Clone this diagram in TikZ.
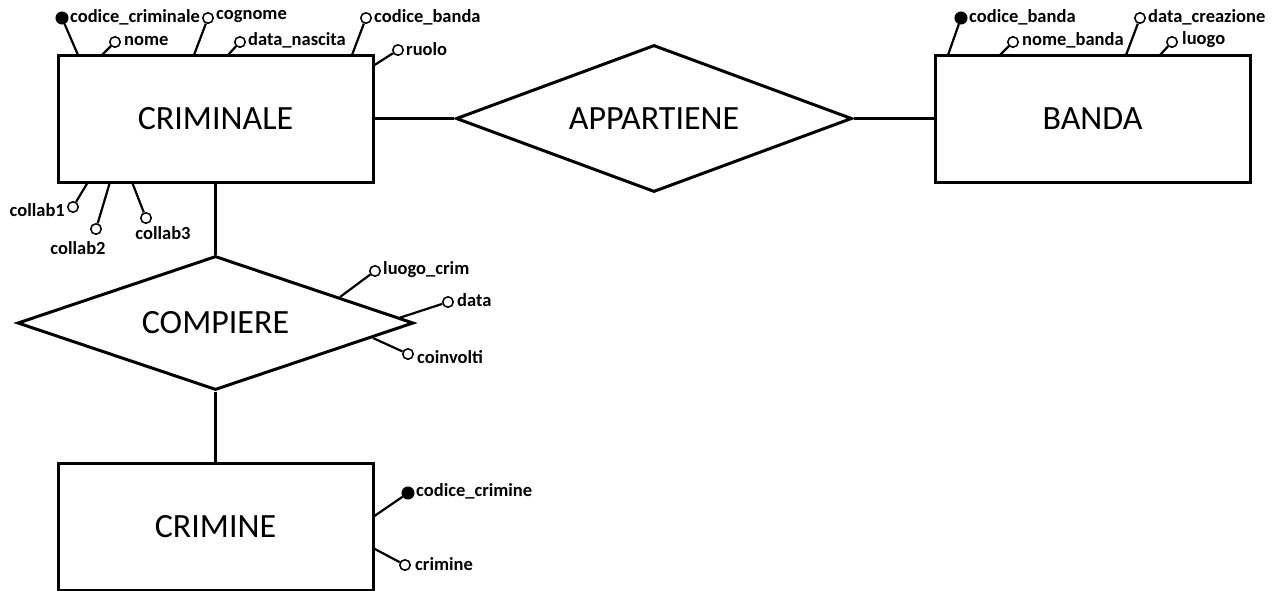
\documentclass[tikz,border=0pt]{standalone}
\usepackage{fontspec}
\setmainfont{Carlito}
\usetikzlibrary{shapes.geometric}
\tikzset{
  entity/.style={draw, line width=3pt, rectangle, minimum width=315pt, minimum height=127pt, inner sep=0pt, font=\fontsize{34}{36}\selectfont},
  rel/.style={draw, line width=3pt, diamond, inner sep=0pt, font=\fontsize{34}{36}\selectfont},
  conn/.style={line width=3pt},
  att/.style={draw, circle, line width=1.5pt, minimum size=10.5pt, inner sep=0pt, fill=white},
  key/.style={draw, circle, line width=1.5pt, minimum size=11.5pt, inner sep=0pt, fill=black},
  alink/.style={line width=2.2pt},
  atext/.style={font=\bfseries\fontsize{18.5}{20}\selectfont, inner sep=0pt, anchor=west},
}
\begin{document}
\begin{tikzpicture}[x=1pt,y=-1pt]
\useasboundingbox (0,0) rectangle (1275,590);
% entities and relations
\node[entity] (crim) at (215.5,118.5) {CRIMINALE};
\node[entity] (banda) at (1092.5,118.5) {BANDA};
\node[entity] (crimine) at (215.5,526.5) {CRIMINE};
\node[rel, aspect=2.7, minimum width=396pt, minimum height=147pt] (app) at (654,118.5) {APPARTIENE};
\node[rel, aspect=3, minimum width=396pt, minimum height=134pt] (comp) at (215.5,323) {COMPIERE};
\draw[conn] (crim) -- (app);
\draw[conn] (app) -- (banda);
\draw[conn] (crim) -- (comp);
\draw[conn] (comp) -- (crimine);

% CRIMINALE attributes
\node[key] (cc) at (62,18) {};
\node[atext] (tcc) at (70,17) {codice\_criminale};
\coordinate (pcc) at (78,55);
\draw[alink] (pcc) -- (cc);

\node[att] (nm) at (115,42) {};
\node[atext] (tnm) at (124,41) {nome};
\coordinate (pnm) at (102,55);
\draw[alink] (pnm) -- (nm);

\node[att] (cg) at (208,18) {};
\node[atext] (tcg) at (216,17) {cognome};
\coordinate (pcg) at (194,55);
\draw[alink] (pcg) -- (cg);

\node[att] (dn) at (240,42) {};
\node[atext] (tdn) at (248,40) {data\_nascita};
\coordinate (pdn) at (228,55);
\draw[alink] (pdn) -- (dn);

\node[att] (cb) at (366,18) {};
\node[atext] (tcb) at (374,17) {codice\_banda};
\coordinate (pcb) at (352,55);
\draw[alink] (pcb) -- (cb);

\node[att] (ru) at (398,50) {};
\node[atext] (tru) at (406,49) {ruolo};
\coordinate (pru) at (373,66);
\draw[alink] (pru) -- (ru);

% collaborators
\node[att] (c1) at (73,207) {};
\node[atext, anchor=east] (tc1) at (65,210) {collab1};
\coordinate (pc1) at (88,182);
\draw[alink] (pc1) -- (c1);

\node[att] (c2) at (96,229) {};
\node[atext, anchor=center] (tc2) at (78,248) {collab2};
\coordinate (pc2) at (110,182);
\draw[alink] (pc2) -- (c2);

\node[att] (c3) at (146,218) {};
\node[atext, anchor=center] (tc3) at (163,233) {collab3};
\coordinate (pc3) at (132,182);
\draw[alink] (pc3) -- (c3);

% BANDA attributes
\node[key] (kb) at (961,18) {};
\node[atext] (tkb) at (969,17) {codice\_banda};
\coordinate (pkb) at (948,55);
\draw[alink] (pkb) -- (kb);

\node[att] (nb) at (1013,42) {};
\node[atext] (tnb) at (1022,40) {nome\_banda};
\coordinate (pnb) at (1000,55);
\draw[alink] (pnb) -- (nb);

\node[att] (dc) at (1140,18) {};
\node[atext] (tdc) at (1148,17) {data\_creazione};
\coordinate (pdc) at (1126,55);
\draw[alink] (pdc) -- (dc);

\node[att] (lu) at (1172,42) {};
\node[atext] (tlu) at (1182,40) {luogo};
\coordinate (plu) at (1160,55);
\draw[alink] (plu) -- (lu);

% COMPIERE attributes
\node[att] (lc) at (375,271) {};
\node[atext] (tlc) at (383,270) {luogo\_crim};
\coordinate (plc) at (340,297);
\draw[alink] (plc) -- (lc);

\node[att] (da) at (448,302) {};
\node[atext] (tda) at (457,300) {data};
\coordinate (pda) at (399,318);
\draw[alink] (pda) -- (da);

\node[att] (co) at (408,354) {};
\node[atext] (tco) at (417,357) {coinvolti};
\coordinate (pco) at (373,338);
\draw[alink] (pco) -- (co);

% CRIMINE attributes
\node[key] (kc) at (408,493) {};
\node[atext] (tkc) at (416,491) {codice\_crimine};
\coordinate (pkc) at (373,517);
\draw[alink] (pkc) -- (kc);

\node[att] (cr) at (405,565) {};
\node[atext] (tcr) at (415,564) {crimine};
\coordinate (pcr) at (373,548);
\draw[alink] (pcr) -- (cr);
\end{tikzpicture}
\end{document}
